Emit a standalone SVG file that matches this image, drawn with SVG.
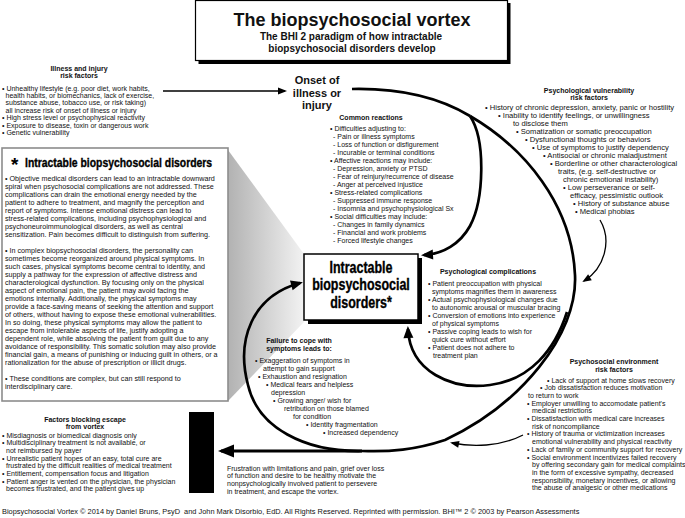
<svg xmlns="http://www.w3.org/2000/svg" width="685" height="518" viewBox="0 0 685 518">
<style>
.t{font-family:"Liberation Sans",Arial,sans-serif;font-size:7px;fill:#111}
.b{font-weight:bold}
.c{text-anchor:middle}
.lb{font-size:7.2px}
.vu{font-size:7.6px}
.nar{font-family:"Liberation Sans",Arial,sans-serif;font-weight:bold;fill:#000;stroke:#000;stroke-width:0.35}
.thick{fill:none;stroke:#000;stroke-width:2.7}
.thin{fill:none;stroke:#000;stroke-width:1.3}
</style>
<defs>
<marker id="aT" markerUnits="userSpaceOnUse" markerWidth="14" markerHeight="12" refX="9" refY="5" orient="auto" overflow="visible"><path d="M0,0 L12,5 L0,10 z" fill="#000"/></marker>
<marker id="aE" markerUnits="userSpaceOnUse" markerWidth="18" markerHeight="14" refX="13" refY="6.5" orient="auto" overflow="visible"><path d="M0,0 L16,6.5 L0,13 z" fill="#000"/></marker>
<marker id="aS" markerUnits="userSpaceOnUse" markerWidth="10" markerHeight="8" refX="7" refY="3.5" orient="auto" overflow="visible"><path d="M0,0 L9,3.5 L0,7 z" fill="#000"/></marker>
<linearGradient id="funnel" gradientUnits="userSpaceOnUse" x1="228" y1="0" x2="306" y2="0">
<stop offset="0" stop-color="#b2b2b2"/><stop offset="1" stop-color="#f4f4f4"/>
</linearGradient>
</defs>
<rect width="685" height="518" fill="#fff"/>

<g id="title-box">
<rect x="198.5" y="3" width="312" height="61" fill="#000"/>
<rect x="195.5" y="0.5" width="312" height="60" fill="#fff" stroke="#000" stroke-width="1.2"/>
<text class="t b c" x="352" y="26" style="font-size:18px">The biopsychosocial vortex</text>
<text class="t b c" x="351" y="40" style="font-size:10px">The BHI 2 paradigm of how intractable</text>
<text class="t b c" x="352" y="52" style="font-size:10px">biopsychosocial disorders develop</text>
</g>

<g id="illness-risk">
<text class="t b c" x="79" y="71">Illness and injury</text>
<text class="t b c" x="79" y="78">risk factors</text>
<text class="t" x="2" y="90.5">• Unhealthy lifestyle (e.g. poor diet, work habits,</text>
<text class="t" x="5.5" y="97.9">health habits, or biomechanics, lack of exercise,</text>
<text class="t" x="5.5" y="105.3">substance abuse, tobacco use, or risk taking)</text>
<text class="t" x="5.5" y="112.7">all increase risk of onset of illness or injury</text>
<text class="t" x="2" y="120.1">• High stress level or psychophysical reactivity</text>
<text class="t" x="2" y="127.5">• Exposure to disease, toxin or dangerous work</text>
<text class="t" x="2" y="134.9">• Genetic vulnerability</text>
</g>

<g id="onset">
<text class="t b c" x="317" y="84" style="font-size:11px">Onset of</text>
<text class="t b c" x="317" y="96.5" style="font-size:11px">illness or</text>
<text class="t b c" x="317" y="109" style="font-size:11px">injury</text>
</g>

<g id="intractable-note">
<polygon points="228,150 304,254 304,322 228,401" fill="url(#funnel)"/>
<rect x="2" y="148" width="226" height="253" fill="#fff" stroke="#8c8c8c" stroke-width="1.6"/>
<text class="t b" x="11" y="171" style="font-size:19px;fill:#000">*</text>
<g transform="translate(25,166.5) scale(0.8,1)"><text class="nar" x="0" y="0" style="font-size:13px">Intractable biopsychosocial disorders</text></g>
<text class="t lb" x="5" y="181">• Objective medical disorders can lead to an intractable downward</text>
<text class="t lb" x="5" y="189">spiral when psychosocial complications are not addressed. These</text>
<text class="t lb" x="5" y="197">complications can drain the emotional energy needed by the</text>
<text class="t lb" x="5" y="205">patient to adhere to treatment, and magnify the perception and</text>
<text class="t lb" x="5" y="213">report of symptoms. Intense emotional distress can lead to</text>
<text class="t lb" x="5" y="221">stress-related complications, including psychophysiological and</text>
<text class="t lb" x="5" y="229">psychoneuroimmunological disorders, as well as central</text>
<text class="t lb" x="5" y="237">sensitization. Pain becomes difficult to distinguish from suffering.</text>
<text class="t lb" x="5" y="253">• In complex biopsychosocial disorders, the personality can</text>
<text class="t lb" x="5" y="261">sometimes become reorganized around physical symptoms. In</text>
<text class="t lb" x="5" y="269">such cases, physical symptoms become central to identity, and</text>
<text class="t lb" x="5" y="277">supply a pathway for the expression of affective distress and</text>
<text class="t lb" x="5" y="285">characterological dysfunction. By focusing only on the physical</text>
<text class="t lb" x="5" y="293">aspect of emotional pain, the patient may avoid facing the</text>
<text class="t lb" x="5" y="301">emotions internally. Additionally, the physical symptoms may</text>
<text class="t lb" x="5" y="309">provide a face-saving means of seeking the attention and support</text>
<text class="t lb" x="5" y="317">of others, without having to expose these emotional vulnerabilities.</text>
<text class="t lb" x="5" y="325">In so doing, these physical symptoms may allow the patient to</text>
<text class="t lb" x="5" y="333">escape from intolerable aspects of life, justify adopting a</text>
<text class="t lb" x="5" y="341">dependent role, while absolving the patient from guilt due to any</text>
<text class="t lb" x="5" y="349">avoidance of responsibility. This somatic solution may also provide</text>
<text class="t lb" x="5" y="357">financial gain, a means of punishing or inducing guilt in others, or a</text>
<text class="t lb" x="5" y="365">rationalization for the abuse of prescription or illicit drugs.</text>
<text class="t lb" x="5" y="381">• These conditions are complex, but can still respond to</text>
<text class="t lb" x="5" y="389">interdisciplinary care.</text>
</g>

<g id="connectors">
<path class="thin" style="stroke-width:1.6" d="M163,91 L285,91" marker-end="url(#aS)"/>
<path class="thick" d="M352,89 C400,88 440,98 470,116"/>
<path class="thick" d="M470,116 C525,148 572,205 575,275 C578,335 520,405 445,440 C415,450 390,452 362,451"/>
<path class="thick" d="M470,116 C486,140 484,200 470,226 C460,244 443,254 424,255" marker-end="url(#aT)"/>
<path class="thick" d="M567,312 C555,350 530,380 490,385 C452,390 410,372 408,329" marker-end="url(#aT)"/>
<path class="thick" d="M362,451 C305,452 258,428 248,385 C236,340 252,296 300,283" marker-end="url(#aT)"/>
<path class="thick" style="stroke-width:3.2" d="M362,451 L221,451" marker-end="url(#aE)"/>
<path class="thin" d="M600,220 C612,240 605,268 584,281" marker-end="url(#aS)"/>
<path class="thin" d="M523,435 C500,447 472,447 452,443" marker-end="url(#aS)"/>
</g>

<g id="common-reactions">
<text class="t b c" x="371" y="120">Common reactions</text>
<text class="t" x="330" y="130.5">• Difficulties adjusting to:</text>
<text class="t" x="333" y="138.5">- Pain or illness symptoms</text>
<text class="t" x="333" y="146.5">- Loss of function or disfigurement</text>
<text class="t" x="333" y="154.5">- Incurable or terminal conditions</text>
<text class="t" x="330" y="162.5">• Affective reactions may include:</text>
<text class="t" x="333" y="170.5">- Depression, anxiety or PTSD</text>
<text class="t" x="333" y="178.5">- Fear of reinjury/recurrence of disease</text>
<text class="t" x="333" y="186.5">- Anger at perceived injustice</text>
<text class="t" x="330" y="194.5">• Stress-related complications</text>
<text class="t" x="333" y="202.5">- Suppressed immune response</text>
<text class="t" x="333" y="210.5">- Insomnia and psychophysiological Sx</text>
<text class="t" x="330" y="218.5">• Social difficulties may include:</text>
<text class="t" x="333" y="226.5">- Changes in family dynamics</text>
<text class="t" x="333" y="234.5">- Financial and work problems</text>
<text class="t" x="333" y="242.5">- Forced lifestyle changes</text>
</g>

<g id="intractable-box">
<rect x="308" y="258" width="114" height="66" fill="#000"/>
<rect x="304" y="254" width="114" height="66" fill="#fff" stroke="#000" stroke-width="1.5"/>
<g transform="translate(361,272.5) scale(0.78,1)"><text class="nar c" x="0" y="0" style="font-size:16px">Intractable</text></g>
<g transform="translate(361,290) scale(0.78,1)"><text class="nar c" x="0" y="0" style="font-size:16px">biopsychosocial</text></g>
<g transform="translate(361,308) scale(0.78,1)"><text class="nar c" x="0" y="0" style="font-size:16px">disorders*</text></g>
</g>

<g id="failure-to-cope">
<text class="t b c" x="299" y="343.2">Failure to cope with</text>
<text class="t b c" x="299" y="350.5">symptoms leads to:</text>
<text class="t" x="255" y="362.5">• Exaggeration of symptoms in</text>
<text class="t" x="263" y="370.5">attempt to gain support</text>
<text class="t" x="258" y="378.7">• Exhaustion and resignation</text>
<text class="t" x="266" y="386.9">• Medical fears and helpless</text>
<text class="t" x="271" y="394.8">depression</text>
<text class="t" x="273" y="402.9">• Growing anger/ wish for</text>
<text class="t" x="284" y="411">retribution on those blamed</text>
<text class="t" x="293" y="419">for condition</text>
<text class="t" x="306" y="427">• Identity fragmentation</text>
<text class="t" x="323" y="435">• Increased dependency</text>
</g>

<g id="psych-complications">
<text class="t b c" x="488" y="274.2">Psychological complications</text>
<text class="t" x="428" y="285.5">• Patient preoccupation with physical</text>
<text class="t" x="432" y="293.5">symptoms magnifies them in awareness</text>
<text class="t" x="428" y="301.5">• Actual psychophysiological changes due</text>
<text class="t" x="432" y="309.5">to autonomic arousal or muscular bracing</text>
<text class="t" x="428" y="317.5">• Conversion of emotions into experience</text>
<text class="t" x="432" y="325.5">of physical symptoms</text>
<text class="t" x="428" y="333.5">• Passive coping leads to wish for</text>
<text class="t" x="432" y="341.5">quick cure without effort</text>
<text class="t" x="428" y="349.5">• Patient does not adhere to</text>
<text class="t" x="433" y="357.5">treatment plan</text>
</g>

<g id="psych-vulnerability">
<text class="t b c" x="589" y="92.5">Psychological vulnerability</text>
<text class="t b c" x="589" y="100">risk factors</text>
<text class="t vu" x="485" y="110.2">• History of chronic depression, anxiety, panic or hostility</text>
<text class="t vu" x="498" y="118.2">• Inability to identify feelings, or unwillingness</text>
<text class="t vu" x="513" y="126.2">to disclose them</text>
<text class="t vu" x="516" y="134.2">• Somatization or somatic preoccupation</text>
<text class="t vu" x="525" y="142.2">• Dysfunctional thoughts or behaviors</text>
<text class="t vu" x="532" y="150.2">• Use of symptoms to justify dependency</text>
<text class="t vu" x="543" y="158.2">• Antisocial or chronic maladjustment</text>
<text class="t vu" x="550" y="166.2">• Borderline or other characterological</text>
<text class="t vu" x="558" y="174.2">traits, (e.g. self-destructive or</text>
<text class="t vu" x="563" y="182.2">chronic emotional instability)</text>
<text class="t vu" x="563" y="190.2">• Low perseverance or self-</text>
<text class="t vu" x="570" y="198.2">efficacy, pessimistic outlook</text>
<text class="t vu" x="573" y="206.2">• History of substance abuse</text>
<text class="t vu" x="575" y="214.2">• Medical phobias</text>
</g>

<g id="psychosocial-environment">
<text class="t b c" x="614" y="364">Psychosocial environment</text>
<text class="t b c" x="614" y="371.5">risk factors</text>
<text class="t" x="547" y="382.5">• Lack of support at home slows recovery</text>
<text class="t" x="540" y="390.2">• Job dissatisfaction reduces motivation</text>
<text class="t" x="528" y="397.9">to return to work</text>
<text class="t" x="527" y="405.6">• Employer unwilling to accomodate patient's</text>
<text class="t" x="532" y="413.3">medical restrictions</text>
<text class="t" x="527" y="421">• Dissatisfaction with medical care increases</text>
<text class="t" x="532" y="428.7">risk of noncompliance</text>
<text class="t" x="527" y="436.4">• History of trauma or victimization increases</text>
<text class="t" x="532" y="444.1">emotional vulnerability and physical reactivity</text>
<text class="t" x="527" y="451.8">• Lack of family or community support for recovery</text>
<text class="t" x="527" y="459.5">• Social environment incentivizes failed recovery</text>
<text class="t" x="532" y="467.2">by offering secondary gain for medical complaints</text>
<text class="t" x="532" y="474.9">in the form of excessive sympathy, decreased</text>
<text class="t" x="532" y="482.6">responsibility, monetary incentives, or allowing</text>
<text class="t" x="532" y="490.3">the abuse of analgesic or other medications</text>
</g>

<g id="blocking-factors">
<rect x="189" y="412" width="25" height="81" fill="#000"/>
<text class="t b c" x="85" y="421.5">Factors blocking escape</text>
<text class="t b c" x="85" y="429">from vortex</text>
<text class="t" x="2" y="437.5">• Misdiagnosis or biomedical diagnosis only</text>
<text class="t" x="2" y="445.2">• Multidisciplinary treatment is not available, or</text>
<text class="t" x="6" y="452.9">not reimbursed by payer</text>
<text class="t" x="2" y="460.6">• Unrealistic patient hopes of an easy, total cure are</text>
<text class="t" x="6" y="468.3">frustrated by the difficult realities of medical treatment</text>
<text class="t" x="2" y="476">• Entitlement, compensation focus and litigation</text>
<text class="t" x="2" y="483.7">• Patient anger is vented on the physician, the physician</text>
<text class="t" x="6" y="491.4">becomes frustrated, and the patient gives up</text>
</g>

<g id="escape-text">
<text class="t" x="227" y="470.5">Frustration with limitations and pain, grief over loss</text>
<text class="t" x="227" y="478.3">of function and desire to be healthy motivate the</text>
<text class="t" x="227" y="486">nonpsychologically involved patient to persevere</text>
<text class="t" x="227" y="493.7">in treatment, and escape the vortex.</text>
</g>

<text id="footer" class="t" x="2" y="514" style="font-size:7.4px">Biopsychosocial Vortex © 2014 by Daniel Bruns, PsyD&#160; and John Mark Disorbio, EdD. All Rights Reserved. Reprinted with permission. BHI™ 2 © 2003 by Pearson Assessments</text>
</svg>
